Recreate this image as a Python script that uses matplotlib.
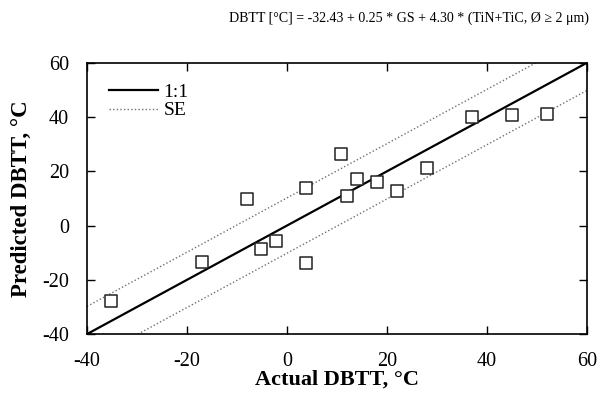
import matplotlib
matplotlib.use("Agg")
import matplotlib.pyplot as plt
import numpy as np

plt.rcParams['font.family'] = ['Liberation Serif', 'DejaVu Serif']
plt.rcParams['axes.unicode_minus'] = False

# actual vs predicted DBTT, degC
actual = [-35.2, -17.0, -7.9, -5.1, -2.1, 3.9, 3.9, 10.9, 12.1, 14.1, 18.0, 22.0, 28.0, 37.0, 45.1, 52.0]
predicted = [-27.7, -13.3, 9.7, -8.6, -5.6, 14.0, -13.7, 26.5, 10.9, 17.3, 16.0, 12.7, 21.4, 40.1, 40.7, 41.3]
se = 10.2
ticks = [-40, -20, 0, 20, 40, 60]

fig = plt.figure(figsize=(6.0, 4.03), dpi=100)
ax = fig.add_axes([0.145, 0.171, 0.833, 0.673])

line_x = np.array([-40, 60])
dots = (0, (1, 1.6))
ax.plot(line_x, line_x, color='black', lw=1.6, label='1:1')
ax.plot(line_x, line_x + se, color='#707070', lw=1.0, ls=dots, label='SE')
ax.plot(line_x, line_x - se, color='#707070', lw=1.0, ls=dots)
ax.scatter(actual, predicted, marker='s', s=75, facecolors='white',
           edgecolors='#222222', linewidths=1.1, zorder=3)

ax.set_xlim(-40, 60)
ax.set_ylim(-40, 60)
ax.set_xticks(ticks)
ax.set_yticks(ticks)
ax.tick_params(direction='in', top=True, right=True, length=6, width=1.0,
               labelsize=14.5, pad=13)
for s in ax.spines.values():
    s.set_linewidth(1.2)

ax.set_xlabel('Actual DBTT, °C', fontsize=16, fontweight='bold', labelpad=-1)
ax.set_ylabel('Predicted DBTT, °C', fontsize=16.5, fontweight='bold')
ax.yaxis.set_label_coords(-0.11, 0.5)

leg = ax.legend(loc='upper left', bbox_to_anchor=(0.044, 0.925), fontsize=14,
                frameon=False, handlelength=2.5, labelspacing=0.05,
                handletextpad=0.3, borderpad=0, borderaxespad=0)

fig.text(0.681, 0.955, 'DBTT [°C] = -32.43 + 0.25 * GS + 4.30 * (TiN+TiC, Ø ≥ 2 μm)',
         ha='center', va='center', fontsize=10.1)

fig.savefig('out.png', dpi=100)
